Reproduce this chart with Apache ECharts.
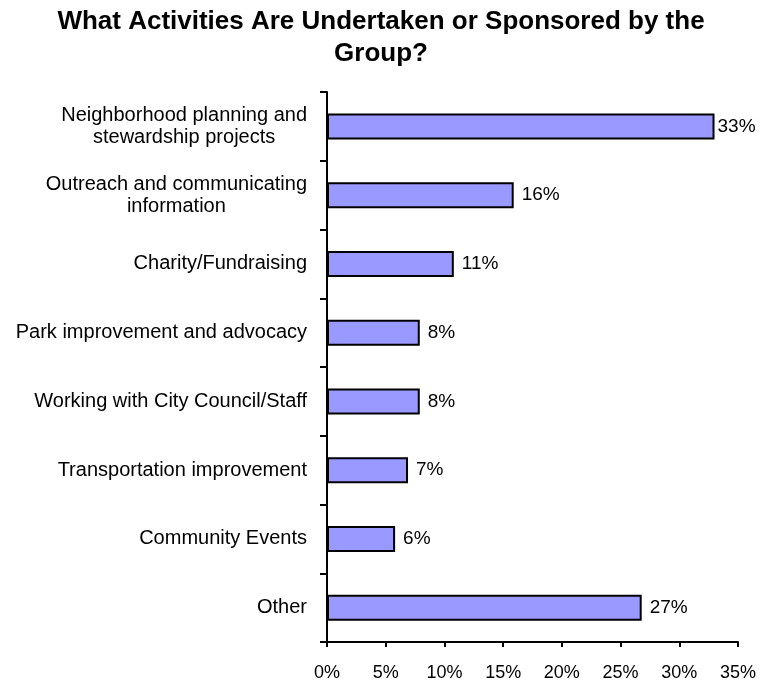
<!DOCTYPE html>
<html>
<head>
<meta charset="utf-8">
<script src="https://cdn.jsdelivr.net/npm/echarts@6/dist/echarts.min.js"></script>
<style>
  html, body { margin: 0; padding: 0; background: #fff; }
  #chart { width: 762px; height: 683px; }
</style>
</head>
<body>
<div id="chart"></div>
<script>
const categories = [
  "Neighborhood planning and\nstewardship projects",
  "Outreach and communicating\ninformation",
  "Charity/Fundraising",
  "Park improvement and advocacy",
  "Working with City Council/Staff",
  "Transportation improvement",
  "Community Events",
  "Other"
];
const shares = [33.0, 15.9, 10.8, 7.9, 7.9, 6.9, 5.8, 26.8];
const axisMax = 35;
const axisStep = 5;

const font = "'Liberation Sans', Arial, Helvetica, sans-serif";
const chart = echarts.init(document.getElementById("chart"));

const option = {
  animation: false,
  backgroundColor: "#ffffff",
  title: {
    text: "What Activities Are Undertaken or Sponsored by the\nGroup?",
    left: "center",
    top: 1,
    textStyle: {
      fontFamily: font,
      fontSize: 26,
      fontWeight: "bold",
      color: "#000",
      lineHeight: 32
    }
  },
  grid: {
    left: 327,
    right: 24,
    top: 92,
    bottom: 41
  },
  xAxis: {
    type: "value",
    min: 0,
    max: axisMax,
    interval: axisStep,
    splitLine: { show: false },
    axisLine: { show: true, lineStyle: { color: "#000", width: 2 } },
    axisTick: { show: true, length: 5, lineStyle: { color: "#000", width: 2 } },
    axisLabel: {
      formatter: "{value}%",
      margin: 22,
      color: "#000",
      fontFamily: font,
      fontSize: 18
    }
  },
  yAxis: {
    type: "category",
    inverse: true,
    data: categories,
    axisLine: { show: true, lineStyle: { color: "#000", width: 2 } },
    axisTick: { show: true, length: 7, lineStyle: { color: "#000", width: 2 } },
    axisLabel: {
      interval: 0,
      margin: 20,
      align: "right",
      color: "#000",
      fontFamily: font,
      fontSize: 20,
      lineHeight: 22,
      formatter: function (name) {
        return name.split("\n").map(s => "{c|" + s + "}").join("\n");
      },
      rich: {
        c: {
          align: "center",
          color: "#000",
          fontFamily: font,
          fontSize: 20,
          lineHeight: 22
        }
      }
    }
  },
  series: [
    {
      type: "bar",
      barWidth: 26,
      data: shares.map((v, i) => i === 0 ? { value: v, label: { distance: 3 } } : v),
      itemStyle: {
        color: "#9999FF",
        borderColor: "#000",
        borderWidth: 2
      },
      label: {
        show: true,
        position: "right",
        distance: 8,
        color: "#000",
        fontFamily: font,
        fontSize: 19,
        formatter: p => Math.round(p.value) + "%"
      }
    }
  ]
};

chart.setOption(option);
</script>
</body>
</html>
